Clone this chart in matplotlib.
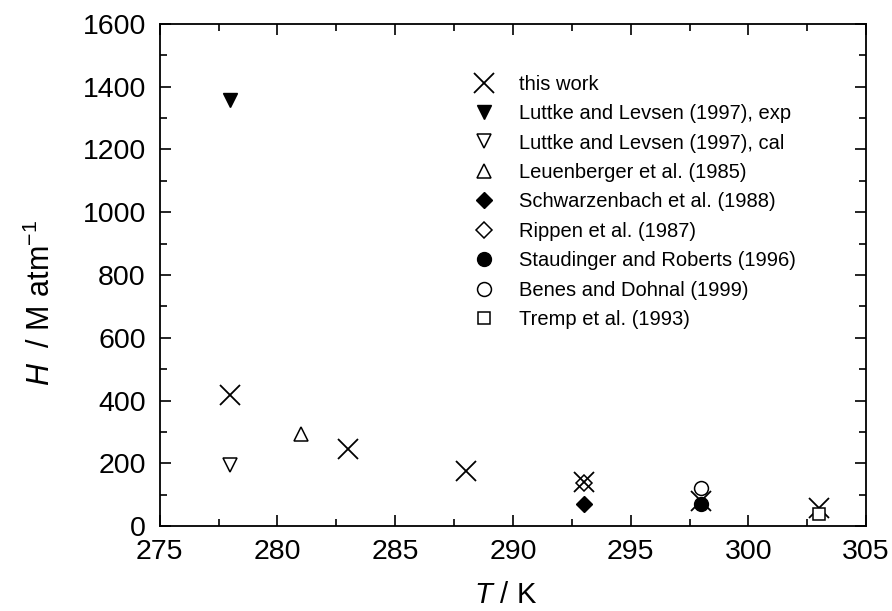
import matplotlib
matplotlib.use('Agg')
import matplotlib.pyplot as plt
from matplotlib.ticker import MultipleLocator

plt.rcParams['font.family'] = 'Liberation Sans'
plt.rcParams['mathtext.fontset'] = 'custom'
plt.rcParams['mathtext.rm'] = 'Liberation Sans'
plt.rcParams['mathtext.it'] = 'Liberation Sans:italic'

# Henry's law constants, H / M atm^-1 vs T / K
this_work_T = [278, 283, 288, 293, 298, 303]
this_work_H = [418, 245, 175, 140, 80, 58]

luttke_exp_T = [278]
luttke_exp_H = [1358]
luttke_cal_T = [278]
luttke_cal_H = [195]
leuenberger_T = [281]
leuenberger_H = [292]
schwarzenbach_T = [293]
schwarzenbach_H = [70]
rippen_T = [293]
rippen_H = [138]
staudinger_T = [298]
staudinger_H = [70]
benes_T = [298]
benes_H = [122]
tremp_T = [303]
tremp_H = [38]

fig = plt.figure(figsize=(8.92, 6.11), dpi=100)
ax = fig.add_axes([0.179, 0.139, 0.792, 0.822])

ax.plot(this_work_T, this_work_H, ls='none', marker='x', ms=14, mew=1.3,
        color='black', label='this work')
ax.plot(luttke_exp_T, luttke_exp_H, ls='none', marker='v', ms=10,
        color='black', label='Luttke and Levsen (1997), exp')
ax.plot(luttke_cal_T, luttke_cal_H, ls='none', marker='v', ms=10, mew=1.1,
        mfc='white', mec='black', label='Luttke and Levsen (1997), cal')
ax.plot(leuenberger_T, leuenberger_H, ls='none', marker='^', ms=10, mew=1.1,
        mfc='white', mec='black', label='Leuenberger et al. (1985)')
ax.plot(schwarzenbach_T, schwarzenbach_H, ls='none', marker='D', ms=8.5,
        color='black', label='Schwarzenbach et al. (1988)')
ax.plot(rippen_T, rippen_H, ls='none', marker='D', ms=8.5, mew=1.1,
        mfc='none', mec='black', label='Rippen et al. (1987)')
ax.plot(staudinger_T, staudinger_H, ls='none', marker='o', ms=10,
        color='black', label='Staudinger and Roberts (1996)')
ax.plot(benes_T, benes_H, ls='none', marker='o', ms=10, mew=1.1,
        mfc='white', mec='black', label='Benes and Dohnal (1999)')
ax.plot(tremp_T, tremp_H, ls='none', marker='s', ms=9, mew=1.1,
        mfc='white', mec='black', label='Tremp et al. (1993)')

ax.set_xlim(275, 305)
ax.set_ylim(0, 1600)
ax.xaxis.set_major_locator(MultipleLocator(5))
ax.xaxis.set_minor_locator(MultipleLocator(2.5))
ax.yaxis.set_major_locator(MultipleLocator(200))
ax.yaxis.set_minor_locator(MultipleLocator(100))
ax.tick_params(which='both', direction='in', top=True, right=True,
               labelsize=20.5, width=1.2)
ax.tick_params(which='major', length=8)
ax.tick_params(which='minor', length=5)
ax.tick_params(axis='x', pad=9)
ax.tick_params(axis='y', pad=10)
for s in ax.spines.values():
    s.set_linewidth(1.3)

ax.set_xlabel('$T$ / K', fontsize=21)
ax.set_ylabel('$H$  / M atm$^{-1}$', fontsize=22)
ax.xaxis.set_label_coords(0.49, -0.11)
ax.yaxis.set_label_coords(-0.145, 0.444)

ax.legend(loc='upper left', bbox_to_anchor=(0.433, 0.915), frameon=False,
          fontsize=14.5, labelspacing=0.52, handletextpad=1.25,
          handlelength=1.0, borderaxespad=0)

fig.savefig('out.png', dpi=100)
